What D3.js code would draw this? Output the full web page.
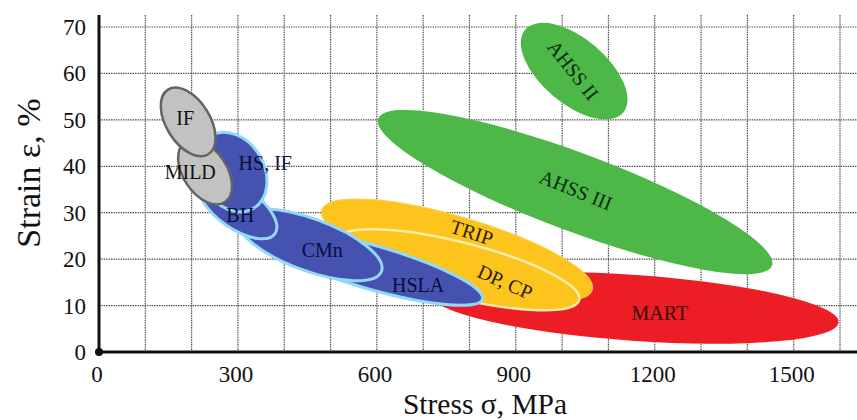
<!DOCTYPE html>
<html><head><meta charset="utf-8">
<script src="https://cdn.jsdelivr.net/npm/d3@7"></script>
<style>body{margin:0;background:#fff}svg{display:block}</style>
</head><body>
<svg id="c" width="857" height="420"></svg>
<script>
// ---- data ----
const stressTicks = [0, 300, 600, 900, 1200, 1500];
const strainTicks = [0, 10, 20, 30, 40, 50, 60, 70];
const stressGrid = [100, 200, 300, 400, 500, 600, 700, 800, 900, 1000, 1100, 1200, 1300, 1400, 1500, 1600];
// steel grade regions: ellipse tips (stress MPa, strain %) + half width (strain %)
const grades      = ["AHSS II", "AHSS III", "MART", "TRIP", "DP, CP", "HSLA", "CMn", "BH", "HS, IF", "MILD", "IF"];
const stressA     = [920, 603, 714, 481, 513, 347, 300, 220, 242, 186, 149];
const strainA     = [69.4, 50.3, 12.6, 30.6, 24.2, 25.2, 28.8, 36.6, 46.6, 45.2, 56.5];
const stressB     = [1132, 1453, 1597, 1065, 1037, 828, 610, 380, 333, 272, 236];
const strainB     = [51.6, 18.6, 6.4, 13.4, 11.2, 11.4, 17.4, 25.5, 30.9, 32.3, 42.6];
const halfWidth   = [7.0, 8.4, 7.1, 7.1, 6.0, 4.7, 5.6, 4.5, 6.9, 4.7, 4.7];
// label anchor (stress, strain)
const labelStress = [1024, 1030, 1211, 805, 877, 689, 482, 305, 359, 197, 186];
const labelStrain = [60.7, 34.9, 8.4, 25.8, 15.1, 14.4, 22.0, 29.5, 40.7, 38.8, 50.4];

// ---- styles ----
const fam = {
  green: {fill: "#4db848", stroke: "none", sw: 0, text: "#0c2a10"},
  red:   {fill: "#ec1d25", stroke: "none", sw: 0, text: "#3a0a0a"},
  trip:  {fill: "#fcc41c", stroke: "#fcd04a", sw: 1, text: "#2b1d00"},
  dp:    {fill: "#fcc41c", stroke: "#fdeca6", sw: 2.5, text: "#2b1d00"},
  blue:  {fill: "#4552b0", stroke: "#93d9f5", sw: 3, text: "#0a0c3a"},
  gray:  {fill: "#c2c2c2", stroke: "#646464", sw: 2.5, text: "#111"}
};
const gradeFamily = ["green", "green", "red", "trip", "dp", "blue", "blue", "blue", "blue", "gray", "gray"];
const labelRotate = [52, 22, 0, 18, 24, 0, 0, 0, 0, 0, 0];

const svg = d3.select("#c");
const x = d3.scaleLinear().domain([0, 1600]).range([99, 840]);
const y = d3.scaleLinear().domain([0, 70]).range([352, 27]);
const xMax = x.invert(857), yTop = y.invert(15);

// grid
const grid = svg.append("g").attr("stroke", "#4a4a4a").attr("stroke-width", 1.2).attr("stroke-dasharray", "1.4,1");
grid.selectAll("line.v").data(stressGrid).join("line")
  .attr("x1", d => x(d)).attr("x2", d => x(d)).attr("y1", y(yTop)).attr("y2", y(0));
grid.selectAll("line.h").data(strainTicks.slice(1)).join("line")
  .attr("x1", x(0)).attr("x2", x(xMax)).attr("y1", d => y(d)).attr("y2", d => y(d));

// regions
const shapes = svg.append("g");
grades.forEach((g, i) => {
  const x1 = x(stressA[i]), y1 = y(strainA[i]), x2 = x(stressB[i]), y2 = y(strainB[i]);
  const cx = (x1 + x2) / 2, cy = (y1 + y2) / 2;
  const a = Math.hypot(x2 - x1, y2 - y1) / 2;
  const b = y(0) - y(halfWidth[i]);
  const ang = Math.atan2(y2 - y1, x2 - x1) * 180 / Math.PI;
  const st = fam[gradeFamily[i]];
  shapes.append("ellipse")
    .attr("cx", 0).attr("cy", 0).attr("rx", a).attr("ry", b)
    .attr("transform", `translate(${cx},${cy}) rotate(${ang})`)
    .attr("fill", st.fill).attr("stroke", st.stroke).attr("stroke-width", st.sw);
});

// labels
const labels = svg.append("g").attr("font-family", "'Liberation Serif','Times New Roman',serif").attr("font-size", 20);
grades.forEach((g, i) => {
  labels.append("text")
    .attr("transform", `translate(${x(labelStress[i])},${y(labelStrain[i])}) rotate(${labelRotate[i]})`)
    .attr("text-anchor", "middle").attr("dominant-baseline", "central")
    .attr("fill", fam[gradeFamily[i]].text)
    .text(g);
});

// axes
const axes = svg.append("g");
axes.append("line").attr("x1", x(0)).attr("x2", x(0)).attr("y1", y(yTop)).attr("y2", y(0))
  .attr("stroke", "#111").attr("stroke-width", 3);
axes.append("line").attr("x1", x(0)).attr("x2", x(xMax)).attr("y1", y(0)).attr("y2", y(0))
  .attr("stroke", "#111").attr("stroke-width", 3);
axes.append("circle").attr("cx", x(0)).attr("cy", y(0)).attr("r", 4).attr("fill", "#111");

const tickFont = "'Liberation Serif','Times New Roman',serif";
axes.selectAll("text.xt").data(stressTicks).join("text")
  .attr("x", d => x(d) - 2).attr("y", 381.5)
  .attr("text-anchor", "middle").attr("font-family", tickFont).attr("font-size", 23).attr("fill", "#111")
  .text(d => d);
axes.selectAll("text.yt").data(strainTicks).join("text")
  .attr("x", 86).attr("y", d => y(d)).attr("dy", "0.35em")
  .attr("text-anchor", "end").attr("font-family", tickFont).attr("font-size", 23).attr("fill", "#111")
  .text(d => d);

svg.append("text").attr("x", 485).attr("y", 413.5).attr("text-anchor", "middle")
  .attr("font-family", tickFont).attr("font-size", 29.5).attr("fill", "#111").text("Stress σ, MPa");
svg.append("text").attr("transform", "translate(40,173) rotate(-90)").attr("text-anchor", "middle")
  .attr("font-family", tickFont).attr("font-size", 34).attr("fill", "#111").text("Strain ε, %");
</script>
</body></html>
